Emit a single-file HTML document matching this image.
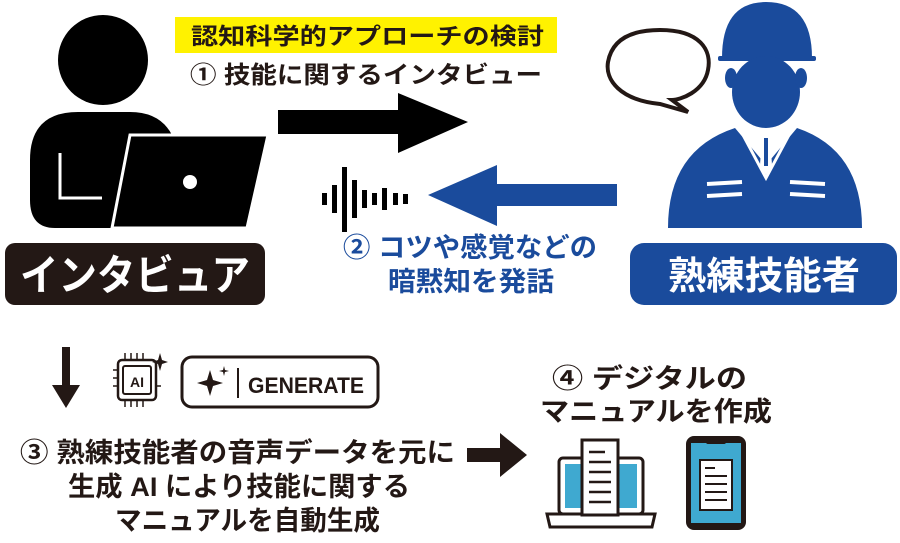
<!DOCTYPE html>
<html><head><meta charset="utf-8"><style>
body{margin:0;width:900px;height:538px;background:#fff;overflow:hidden}
svg text{font-family:"Liberation Sans","Noto Sans CJK JP",sans-serif;font-weight:bold}
</style></head><body>
<svg width="900" height="538" viewBox="0 0 900 538" xmlns="http://www.w3.org/2000/svg">
<!-- interviewer -->
<circle cx="103" cy="60" r="45" fill="#000"/>
<path d="M30 160 Q30 112 78 112 L130 112 Q160 112 172 135 L150 228 L55 228 Q30 228 30 200 Z" fill="#000"/>
<path d="M130 135 L268 135 L247 228 L112 228 Z" fill="#000" stroke="#fff" stroke-width="3"/>
<circle cx="190" cy="182" r="7" fill="#fff"/>
<path d="M60 153 L60 198 L102 198" stroke="#fff" stroke-width="3" fill="none"/>
<rect x="5" y="243" width="260" height="62" rx="10" fill="#231815"/>
<text x="20" y="290" font-size="42" fill="#fff" textLength="230" lengthAdjust="spacingAndGlyphs">インタビュア</text>
<!-- top texts -->
<rect x="175" y="17" width="382" height="36" fill="#fff200"/>
<text x="191" y="44" font-size="23" fill="#231815" textLength="353" lengthAdjust="spacingAndGlyphs">認知科学的アプローチの検討</text>
<text x="190" y="83" font-size="24" fill="#231815" textLength="352" lengthAdjust="spacingAndGlyphs">① 技能に関するインタビュー</text>
<!-- black arrow -->
<path d="M278 110 L398 110 L398 93 L468 122 L398 153 L398 134 L278 134 Z" fill="#000"/>
<!-- waveform -->
<g fill="#000">
<rect x="322" y="193" width="5" height="12"/><rect x="332" y="185" width="5" height="28"/>
<rect x="342" y="167" width="5" height="65"/><rect x="352" y="180" width="5" height="38"/>
<rect x="362" y="190" width="5" height="18"/><rect x="372" y="193" width="5" height="12"/>
<rect x="382" y="188" width="5" height="22"/><rect x="393" y="193" width="5" height="12"/>
<rect x="403" y="194" width="5" height="10"/>
</g>
<!-- blue arrow -->
<path d="M617 184 L497 184 L497 165 L428 195 L497 226 L497 206 L617 206 Z" fill="#1a4b9c"/>
<text x="343" y="257" font-size="27" fill="#1a4b9c" textLength="254" lengthAdjust="spacingAndGlyphs">② コツや感覚などの</text>
<text x="388" y="291" font-size="27" fill="#1a4b9c" textLength="166" lengthAdjust="spacingAndGlyphs">暗黙知を発話</text>
<!-- speech bubble -->
<path d="M660 30 C700 30 712 50 708 70 C704 92 680 100 672 100 L688 112 L660 104 C620 100 605 80 608 62 C612 40 630 30 660 30 Z" fill="#fff" stroke="#231815" stroke-width="4"/>
<!-- worker -->
<g fill="#1a4b9c">
<path d="M722 58 Q722 2 766 2 Q812 2 812 58 Z"/>
<rect x="718" y="56" width="98" height="5" rx="2"/>
<ellipse cx="766" cy="92" rx="34" ry="36"/>
<ellipse cx="731" cy="78" rx="6" ry="10"/><ellipse cx="801" cy="78" rx="6" ry="10"/>
<path d="M668 228 Q668 150 735 128 L766 165 L797 128 Q862 150 862 228 Z"/>
</g>
<path d="M735 120 L766 178 L797 120" stroke="#fff" stroke-width="3" fill="none"/>
<path d="M762 135 L770 135 L772 165 L766 175 L760 165 Z" fill="#fff"/>
<rect x="764" y="138" width="4" height="28" fill="#1a4b9c"/>
<path d="M707 184 L742 182 M707 196 L742 194 M790 182 L825 184 M790 194 L825 196" stroke="#fff" stroke-width="4"/>
<rect x="630" y="243" width="267" height="62" rx="14" fill="#1a4b9c"/>
<text x="668" y="289" font-size="38" fill="#fff" textLength="192" lengthAdjust="spacingAndGlyphs">熟練技能者</text>
<!-- bottom left -->
<path d="M62 347 L70 347 L70 385 L80 385 L66 408 L52 385 L62 385 Z" fill="#231815"/>
<rect x="118" y="360" width="38" height="40" rx="4" fill="#fff" stroke="#231815" stroke-width="2.5"/>
<rect x="123" y="366" width="28" height="28" rx="2" fill="none" stroke="#231815" stroke-width="2"/>
<text x="137" y="387" font-size="14" fill="#231815" text-anchor="middle">AI</text>
<path d="M125 360 V353 M131 360 V353 M137 360 V353 M143 360 V353 M125 400 V407 M131 400 V407 M137 400 V407 M143 400 V407 M113 370 H118 M113 378 H118 M113 386 H118 M156 386 H161" stroke="#231815" stroke-width="1.5"/>
<path d="M160 353 L162 360 L168 362 L162 364 L160 371 L158 364 L152 362 L158 360 Z" fill="#231815"/>
<rect x="182" y="357" width="196" height="50" rx="10" fill="#fff" stroke="#231815" stroke-width="3"/>
<path d="M210 370 L213 380 L223 383 L213 386 L210 396 L207 386 L197 383 L207 380 Z" fill="#231815"/>
<path d="M224 366 L225 370 L229 371 L225 372 L224 376 L223 372 L219 371 L223 370 Z" fill="#231815"/>
<rect x="237" y="368" width="2" height="30" fill="#231815"/>
<text x="248" y="393" font-size="22" fill="#231815" textLength="116" lengthAdjust="spacingAndGlyphs">GENERATE</text>
<text x="20" y="462" font-size="27" fill="#231815" textLength="435" lengthAdjust="spacingAndGlyphs">③ 熟練技能者の音声データを元に</text>
<text x="68" y="496" font-size="27" fill="#231815" textLength="342" lengthAdjust="spacingAndGlyphs">生成 AI により技能に関する</text>
<text x="115" y="530" font-size="27" fill="#231815" textLength="265" lengthAdjust="spacingAndGlyphs">マニュアルを自動生成</text>
<path d="M467 448 L500 448 L500 433 L527 455 L500 477 L500 462 L467 462 Z" fill="#231815"/>
<text x="552" y="388" font-size="27" fill="#231815" textLength="195" lengthAdjust="spacingAndGlyphs">④ デジタルの</text>
<text x="540" y="421" font-size="27" fill="#231815" textLength="232" lengthAdjust="spacingAndGlyphs">マニュアルを作成</text>
<!-- laptop -->
<rect x="559" y="458" width="84" height="56" rx="4" fill="#fff" stroke="#231815" stroke-width="3"/>
<rect x="565" y="464" width="72" height="44" fill="#3fa9d0"/>
<path d="M547 514 L655 514 L652 527 L550 527 Z" fill="#fff" stroke="#231815" stroke-width="3"/>
<rect x="582" y="440" width="36" height="75" fill="#fff" stroke="#231815" stroke-width="3"/>
<path d="M589 452 H605 M589 462 H611 M589 472 H611 M589 482 H611 M589 492 H611 M589 502 H611" stroke="#231815" stroke-width="2.5"/>
<!-- phone -->
<rect x="686" y="436" width="60" height="94" rx="8" fill="#231815"/>
<rect x="691" y="443" width="50" height="80" fill="#3fa9d0"/>
<rect x="706" y="440" width="20" height="4" rx="2" fill="#231815"/>
<rect x="700" y="460" width="32" height="50" fill="#fff" stroke="#231815" stroke-width="2"/>
<path d="M705 468 H715 M705 476 H727 M705 484 H727 M705 492 H727 M705 500 H727" stroke="#231815" stroke-width="2"/>
</svg>
</body></html>
